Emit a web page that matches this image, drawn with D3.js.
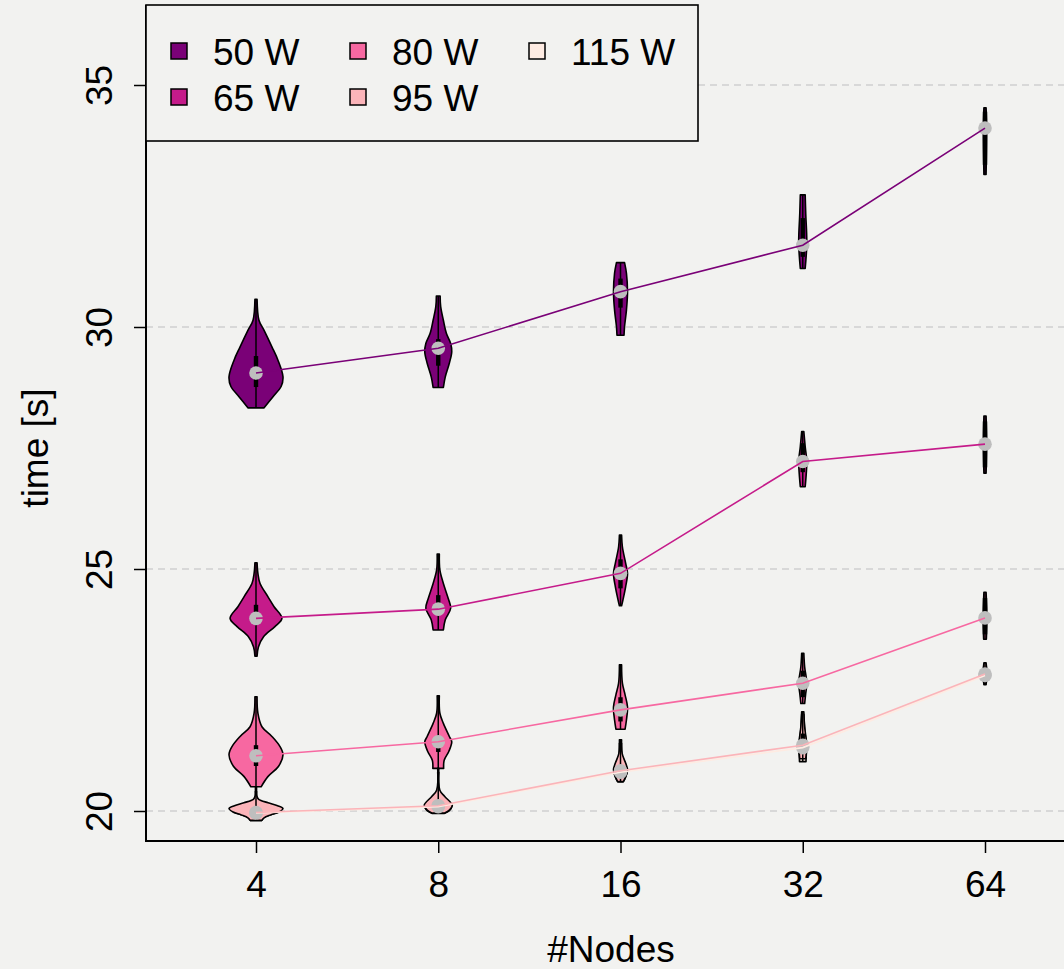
<!DOCTYPE html>
<html><head><meta charset="utf-8">
<script src="https://cdn.jsdelivr.net/npm/d3@7"></script>
<style>
html,body{margin:0;padding:0;background:#f2f2f0;}
svg{display:block;}
text{font-family:"Liberation Sans",Arial,Helvetica,sans-serif;fill:#000;}
</style></head><body>
<svg id="chart" width="1064" height="969"></svg>
<script>
// ---------------- data ----------------
const nodes = [4, 8, 16, 32, 64];
const seriesNames = ["50 W", "65 W", "80 W", "95 W", "115 W"];
const seriesColors = ["#7a0177", "#c51b8a", "#f768a1", "#fbb4b9", "#feebe2"];
const yTicks = [20, 25, 30, 35];

// medians per series (one per node count)
const median50 = [29.05, 29.56, 30.73, 31.69, 34.11];
const median65 = [23.98, 24.17, 24.91, 27.22, 27.58];
const median80 = [21.14, 21.43, 22.09, 22.64, 23.99];
const median95 = [19.97, 20.11, 20.83, 21.36, 22.83];
const median115 = [19.96, 20.09, 20.80, 21.31, 22.80];

// quartiles per series
const q1_50 = [28.76, 29.20, 30.40, 31.45, 33.35];
const q3_50 = [29.40, 29.75, 31.00, 32.25, 34.45];
const q1_65 = [23.90, 24.05, 24.60, 27.00, 27.10];
const q3_65 = [24.26, 24.46, 25.20, 27.60, 28.05];
const q1_80 = [20.93, 21.22, 21.85, 22.35, 23.65];
const q3_80 = [21.36, 21.50, 22.35, 22.90, 24.40];
const q1_95 = [19.94, 20.05, 20.70, 21.20, 22.70];
const q3_95 = [20.03, 20.20, 20.95, 21.60, 22.95];
const q1_115 = [19.93, 20.04, 20.68, 21.15, 22.68];
const q3_115 = [20.02, 20.18, 20.93, 21.55, 22.92];

// violin density profiles: [value, relative density], top to bottom
const violin50 = [
  [[30.57,0.04],[30.14,0.11],[29.93,0.30],[29.59,0.59],[29.32,0.81],[28.97,1.00],[28.77,0.93],[28.56,0.63],[28.33,0.30]],
  [[30.64,0.07],[30.42,0.09],[30.14,0.19],[29.87,0.30],[29.66,0.46],[29.49,0.50],[29.25,0.41],[28.97,0.26],[28.75,0.19]],
  [[31.33,0.15],[31.11,0.22],[30.73,0.26],[30.35,0.22],[30.01,0.15],[29.83,0.13]],
  [[32.73,0.09],[32.35,0.11],[31.73,0.15],[31.21,0.09]],
  [[34.53,0.04],[34.10,0.06],[33.15,0.04]]
];
const violin65 = [
  [[25.13,0.04],[24.91,0.07],[24.70,0.15],[24.43,0.44],[24.22,0.67],[23.98,0.96],[23.81,0.70],[23.60,0.28],[23.39,0.09],[23.20,0.04]],
  [[25.31,0.04],[24.98,0.06],[24.70,0.19],[24.39,0.37],[24.19,0.46],[23.95,0.26],[23.74,0.19]],
  [[25.70,0.04],[25.46,0.07],[25.12,0.19],[24.91,0.26],[24.63,0.19],[24.36,0.09],[24.24,0.04]],
  [[27.84,0.04],[27.53,0.09],[27.22,0.15],[26.97,0.13],[26.70,0.09]],
  [[28.16,0.04],[27.60,0.06],[26.98,0.04]]
];
const violin80 = [
  [[22.36,0.04],[22.02,0.07],[21.74,0.22],[21.54,0.59],[21.33,0.89],[21.16,1.00],[20.92,0.83],[20.71,0.44],[20.50,0.19]],
  [[22.38,0.04],[22.02,0.06],[21.81,0.19],[21.54,0.41],[21.43,0.50],[21.23,0.39],[21.05,0.22],[20.88,0.20]],
  [[23.02,0.04],[22.64,0.07],[22.40,0.17],[22.15,0.26],[21.88,0.22],[21.69,0.17]],
  [[23.26,0.04],[22.98,0.07],[22.64,0.15],[22.43,0.11],[22.22,0.07]],
  [[24.52,0.04],[24.00,0.07],[23.55,0.05]]
];
const violin95 = [
  [[20.50,0.02],[20.30,0.04],[20.24,0.10],[20.17,0.45],[20.11,0.80],[20.05,1.00],[19.98,0.85],[19.92,0.55],[19.86,0.30],[19.81,0.22]],
  [[20.88,0.02],[20.43,0.06],[20.30,0.24],[20.12,0.52],[20.02,0.41],[19.96,0.24]],
  [[21.47,0.04],[21.19,0.06],[20.99,0.19],[20.85,0.26],[20.71,0.19],[20.61,0.11]],
  [[22.05,0.04],[21.74,0.07],[21.36,0.15],[21.19,0.13],[21.08,0.11]],
  [[23.06,0.04],[22.83,0.07],[22.63,0.04]]
];
const violin115 = [
  [[20.40,0.02],[20.20,0.06],[20.05,0.95],[19.95,0.68],[19.87,0.28],[19.80,0.20]],
  [[20.80,0.02],[20.40,0.05],[20.28,0.22],[20.10,0.50],[20.00,0.40],[19.95,0.22]],
  [[21.40,0.04],[21.15,0.06],[20.97,0.18],[20.82,0.25],[20.69,0.18],[20.60,0.10]],
  [[22.00,0.04],[21.70,0.07],[21.31,0.14],[21.15,0.13],[21.02,0.12]],
  [[23.02,0.04],[22.80,0.07],[22.61,0.04]]
];

const medians = [median50, median65, median80, median95, median115];
const q1s = [q1_50, q1_65, q1_80, q1_95, q1_115];
const q3s = [q3_50, q3_65, q3_80, q3_95, q3_115];
const violins = [violin50, violin65, violin80, violin95, violin115];

// ---------------- drawing ----------------
const svg = d3.select("#chart");
const W = 1064, H = 969;
const plotL = 146, plotT = 5, plotB = 841, plotR = 1064;

svg.append("rect").attr("width", W).attr("height", H).attr("fill", "#f2f2f0");

const x = d3.scaleLog().base(2).domain([4, 64]).range([256, 985]);
const y = d3.scaleLinear().domain([20, 35]).range([811, 85]);
const w = d3.scaleLinear().domain([0, 1]).range([0, 27]);

// grid
svg.append("g").selectAll("line").data(yTicks).join("line")
  .attr("x1", plotL).attr("x2", plotR)
  .attr("y1", d => y(d)).attr("y2", d => y(d))
  .attr("stroke", "#cfcfcf").attr("stroke-width", 1.3)
  .attr("stroke-dasharray", "7,5");

// axes
const yAxis = d3.axisLeft(y).tickValues(yTicks).tickSize(12).tickPadding(0).tickFormat(d3.format("d"));
const gy = svg.append("g").attr("transform", `translate(${plotL},0)`).call(yAxis);
gy.select(".domain").remove();
gy.selectAll(".tick line").attr("stroke", "#000").attr("stroke-width", 1.5);
gy.selectAll(".tick text")
  .attr("x", 0).attr("dy", null)
  .attr("transform", "translate(-34,0) rotate(-90)")
  .attr("text-anchor", "middle")
  .attr("font-size", 37);

const xAxis = d3.axisBottom(x).tickValues(nodes).tickSize(12).tickFormat(d3.format("d"));
const gx = svg.append("g").attr("transform", `translate(0,${plotB})`).call(xAxis);
gx.select(".domain").remove();
gx.selectAll(".tick line").attr("stroke", "#000").attr("stroke-width", 1.5);
gx.selectAll(".tick text").attr("y", 56).attr("dy", null).attr("font-size", 37);

// L-shaped frame
svg.append("path")
  .attr("d", `M${plotL},${plotT} V${plotB} H${plotR}`)
  .attr("fill", "none").attr("stroke", "#000").attr("stroke-width", 2);

// axis titles
svg.append("text").attr("x", 611).attr("y", 962).attr("text-anchor", "middle")
  .attr("font-size", 37).text("#Nodes");
svg.append("text").attr("transform", "translate(48,448) rotate(-90)")
  .attr("text-anchor", "middle").attr("font-size", 37).text("time [s]");

// violins (115 W drawn first so 95 W sits on top)
const order = [4, 0, 1, 2, 3];
const gv = svg.append("g");
order.forEach(si => {
  violins[si].forEach((prof, ni) => {
    const cx = x(nodes[ni]);
    const pts = prof.map(p => ({ v: p[0], d: p[1] }));
    const a = d3.area()
      .curve(d3.curveCatmullRom.alpha(0.5))
      .y(d => y(d.v))
      .x0(d => cx - Math.max(w(d.d), 0.4))
      .x1(d => cx + Math.max(w(d.d), 0.4));
    gv.append("path").attr("d", a(pts))
      .attr("fill", seriesColors[si]).attr("stroke", "#000").attr("stroke-width", 1.6)
      .attr("stroke-linejoin", "round");
    const vmax = d3.max(prof, p => p[0]), vmin = d3.min(prof, p => p[0]);
    gv.append("line").attr("x1", cx).attr("x2", cx)
      .attr("y1", y(vmax)).attr("y2", y(vmin))
      .attr("stroke", "#000").attr("stroke-width", 1.5);
    gv.append("rect").attr("x", cx - 2.2).attr("width", 4.4)
      .attr("y", y(q3s[si][ni])).attr("height", y(q1s[si][ni]) - y(q3s[si][ni]))
      .attr("fill", "#000");
  });
});

// median points
order.forEach(si => {
  svg.append("g").selectAll("circle").data(medians[si]).join("circle")
    .attr("cx", (d, i) => x(nodes[i])).attr("cy", d => y(d))
    .attr("r", 6.8).attr("fill", "#bebebe");
});

// connecting lines
const line = d3.line().x((d, i) => x(nodes[i])).y(d => y(d));
order.forEach(si => {
  svg.append("path").attr("d", line(medians[si]))
    .attr("fill", "none").attr("stroke", seriesColors[si]).attr("stroke-width", 1.6);
});

// legend
const lg = svg.append("g");
lg.append("rect").attr("x", plotL).attr("y", plotT).attr("width", 698 - plotL).attr("height", 136)
  .attr("fill", "#f2f2f0").attr("stroke", "#000").attr("stroke-width", 1.6);
const colX = [171, 350, 529];
const rowY = [51, 97];
seriesNames.forEach((name, i) => {
  const c = Math.floor(i / 2), r = i % 2;
  lg.append("rect").attr("x", colX[c]).attr("y", rowY[r] - 8).attr("width", 16).attr("height", 16)
    .attr("fill", seriesColors[i]).attr("stroke", "#000").attr("stroke-width", 1.5);
  lg.append("text").attr("x", colX[c] + 42).attr("y", rowY[r] + 13.5)
    .attr("font-size", 37).text(name);
});
</script>
</body></html>
